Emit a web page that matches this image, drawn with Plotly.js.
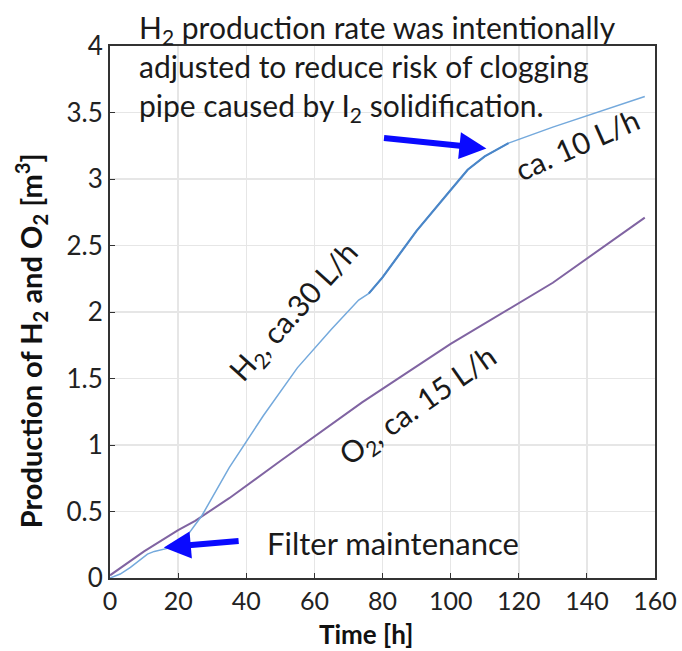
<!DOCTYPE html>
<html>
<head>
<meta charset="utf-8">
<script src="https://cdn.plot.ly/plotly-3.0.1.min.js"></script>
<style>html,body{margin:0;padding:0;background:#fff;}#chart{width:682px;height:651px;}</style>
</head>
<body>
<div id="chart"></div>
<script>
// Time [h] and cumulative production [m3]
const h2Time = [0, 3, 6, 9, 11, 13, 15, 18, 21, 23, 25, 27, 35, 45, 55, 65, 73, 76, 80, 90, 100, 105, 110, 114, 117, 130, 145, 157];
const h2Prod = [0, 0.03, 0.08, 0.14, 0.18, 0.20, 0.21, 0.23, 0.28, 0.33, 0.40, 0.47, 0.83, 1.22, 1.58, 1.87, 2.09, 2.14, 2.26, 2.61, 2.92, 3.07, 3.17, 3.23, 3.27, 3.39, 3.52, 3.62];
const o2Time = [0, 10, 20, 25, 35, 50, 74, 100, 130, 157];
const o2Prod = [0.02, 0.2, 0.36, 0.43, 0.6, 0.88, 1.32, 1.76, 2.22, 2.71];
const xTicks = [0, 20, 40, 60, 80, 100, 120, 140, 160];
const yTicks = [0, 0.5, 1, 1.5, 2, 2.5, 3, 3.5, 4];
const thickRange = [74, 117];

const FONT = 'Lato, "Open Sans", sans-serif';
const thickX = [], thickY = [];
h2Time.forEach((t, i) => { if (t >= thickRange[0] && t <= thickRange[1]) { thickX.push(t); thickY.push(h2Prod[i]); } });

const traces = [
  {x: o2Time, y: o2Prod, mode: 'lines', line: {color: '#8064a2', width: 2}, hoverinfo: 'skip'},
  {x: h2Time, y: h2Prod, mode: 'lines', line: {color: '#74a9dc', width: 1.5}, hoverinfo: 'skip'},
  {x: thickX, y: thickY, mode: 'lines', line: {color: '#4a86c8', width: 2.2}, hoverinfo: 'skip'}
];

const txtFont = {family: FONT, size: 30, color: '#1a1a1a'};
const lblFont = {family: FONT, size: 30, color: '#1a1a1a'};
const layout = {
  width: 682, height: 651,
  margin: {l: 110, r: 27, t: 46, b: 73},
  paper_bgcolor: '#fff', plot_bgcolor: '#fff',
  showlegend: false,
  xaxis: {
    range: [0, 160], tickvals: xTicks, ticktext: xTicks.map(String),
    showgrid: true, gridcolor: '#e6e6e6', gridwidth: 1.5,
    showline: true, linecolor: '#333', linewidth: 2, mirror: true,
    ticks: 'inside', ticklen: 5, tickcolor: '#333', zeroline: false,
    tickfont: {family: FONT, size: 25, color: '#222'}
  },
  yaxis: {
    range: [0, 4], tickvals: yTicks, ticktext: yTicks.map(String),
    showgrid: true, gridcolor: '#e6e6e6', gridwidth: 1.5,
    showline: true, linecolor: '#333', linewidth: 2, mirror: true,
    ticks: 'inside', ticklen: 5, tickcolor: '#333', zeroline: false,
    tickfont: {family: FONT, size: 26, color: '#222'}
  },
  annotations: [
    {xref: 'paper', yref: 'paper', x: 0.47, y: 0, yshift: -56, xanchor: 'center', yanchor: 'middle',
     text: '<b>Time [h]</b>', showarrow: false, font: {family: FONT, size: 26, color: '#111'}},
    {xref: 'paper', yref: 'paper', x: 0, xshift: -79, y: 0.445, xanchor: 'center', yanchor: 'middle', textangle: -90,
     text: '<b>Production of H<sub>2</sub> and O<sub>2</sub> [m<sup>3</sup>]</b>', showarrow: false, font: {family: FONT, size: 29, color: '#111'}},
    {xref: 'paper', yref: 'paper', x: 0.05, y: 1.0, xanchor: 'left', yanchor: 'middle', yshift: -22, align: 'left',
     text: 'H<sub>2</sub> production rate was intentionally<br>adjusted to reduce risk of clogging<br>pipe caused by I<sub>2</sub> solidification.',
     showarrow: false, font: txtFont},
    {x: 45.5, y: 0.26, xanchor: 'left', yanchor: 'middle', text: 'Filter maintenance', showarrow: false, font: {family: FONT, size: 31, color: '#1a1a1a'}},
    {x: 54, y: 2.0, text: 'H<sub>2</sub>, ca.30 L/h', showarrow: false, textangle: -48, font: lblFont},
    {x: 90.5, y: 1.29, text: 'O<sub>2</sub>, ca. 15 L/h', showarrow: false, textangle: -35, font: lblFont},
    {x: 137, y: 3.26, text: 'ca. 10 L/h', showarrow: false, textangle: -24, font: lblFont},
    {x: 15.8, y: 0.23, ax: 38.2, ay: 0.28, axref: 'x', ayref: 'y', text: '', showarrow: true,
     arrowhead: 2, arrowsize: 0.9, arrowwidth: 6, arrowcolor: '#0a0aff'},
    {x: 110.5, y: 3.23, ax: 80, ay: 3.31, axref: 'x', ayref: 'y', text: '', showarrow: true,
     arrowhead: 2, arrowsize: 0.9, arrowwidth: 6, arrowcolor: '#0a0aff'}
  ]
};
Plotly.newPlot('chart', traces, layout, {staticPlot: true, displayModeBar: false});
</script>
</body>
</html>
